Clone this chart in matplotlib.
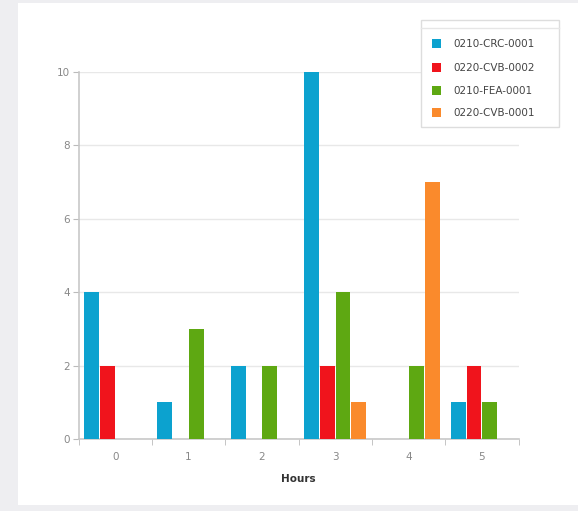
import matplotlib
matplotlib.use("Agg")
import matplotlib.pyplot as plt
from matplotlib.patches import Rectangle
import numpy as np

hours = ["0", "1", "2", "3", "4", "5"]
series_names = ["0210-CRC-0001", "0220-CVB-0002", "0210-FEA-0001", "0220-CVB-0001"]
crc_0001 = [4, 1, 2, 10, 0, 1]
cvb_0002 = [2, 0, 0, 2, 0, 2]
fea_0001 = [0, 3, 2, 4, 2, 1]
cvb_0001 = [0, 0, 0, 1, 7, 0]
colors = ["#0ca2cf", "#f0141c", "#5ea812", "#fa8a2c"]

W, H = 578, 511
fig = plt.figure(figsize=(W / 100, H / 100), dpi=100)
fig.patch.set_facecolor("#eeeef1")
fig.add_artist(Rectangle((18 / W, 6 / H), (W - 18) / W, (H - 9) / H,
                         transform=fig.transFigure, facecolor="white",
                         edgecolor="none", zorder=0))

left, right, top, bottom = 78.5, 518.5, 72, 439
ax = fig.add_axes([left / W, 1 - bottom / H, (right - left) / W, (bottom - top) / H])
ax.set_facecolor("none")

x = np.arange(len(hours))
data = [crc_0001, cvb_0002, fea_0001, cvb_0001]
n = len(data)
group = 0.86
slot = group / n
for i, (vals, c) in enumerate(zip(data, colors)):
    offs = -group / 2 + slot * (i + 0.5)
    ax.bar(x + offs, vals, width=slot * 0.94, color=c, zorder=3, linewidth=0)

ax.set_xlim(-0.5, len(hours) - 0.5)
ax.set_ylim(0, 10)
ax.set_yticks([0, 2, 4, 6, 8, 10])
ax.set_xticks(x)
ax.set_xticklabels(hours)
ax.set_xticks(np.arange(-0.5, len(hours), 1.0), minor=True)
ax.grid(axis="y", color="#e8e8e8", linewidth=1, zorder=0)
ax.tick_params(axis="x", which="major", length=0, pad=9, labelsize=7.5, labelcolor="#888888")
ax.tick_params(axis="x", which="minor", length=4, color="#bbbbbb")
ax.tick_params(axis="y", length=4, color="#bbbbbb", pad=2, labelsize=7.5, labelcolor="#888888")
for s in ["top", "right"]:
    ax.spines[s].set_visible(False)
for s in ["left", "bottom"]:
    ax.spines[s].set_color("#c8c8c8")
    ax.spines[s].set_linewidth(1.2)
ax.set_xlabel("Hours", fontsize=7.5, fontweight="bold", color="#333333", labelpad=9)

lx0, ly0, lx1, ly1 = 421, 20, 559, 127
fig.add_artist(Rectangle((lx0 / W, 1 - ly1 / H), (lx1 - lx0) / W, (ly1 - ly0) / H,
                         transform=fig.transFigure, facecolor="white",
                         edgecolor="#dddddd", linewidth=1, zorder=5))
fig.add_artist(plt.Line2D([lx0 / W, lx1 / W], [1 - 28 / H, 1 - 28 / H],
                          transform=fig.transFigure, color="#e6e6e6", linewidth=1, zorder=6))
ys = [44, 68, 91, 113]
for name, c, yy in zip(series_names, colors, ys):
    fig.add_artist(Rectangle((432 / W, 1 - (yy + 4.5) / H), 9 / W, 9 / H,
                             transform=fig.transFigure, facecolor=c,
                             edgecolor="none", zorder=6))
    fig.text(453 / W, 1 - yy / H, name, fontsize=7.5, color="#444444",
             va="center", ha="left", zorder=7)

fig.savefig("out.png", dpi=100)
